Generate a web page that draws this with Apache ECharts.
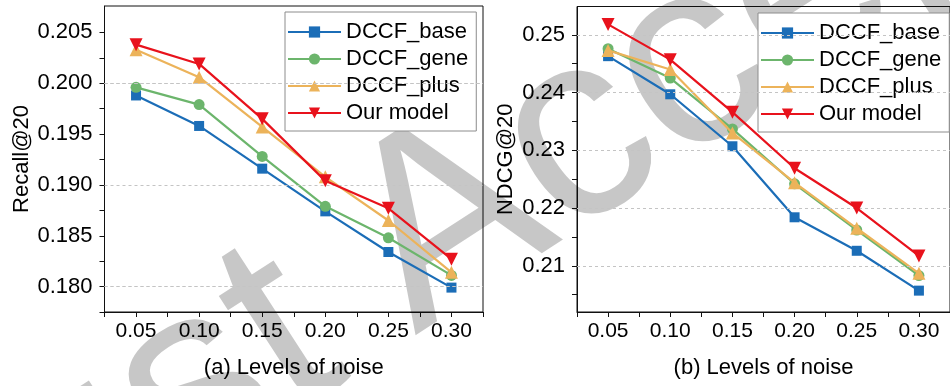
<!DOCTYPE html>
<html>
<head>
<meta charset="utf-8">
<script src="https://cdn.jsdelivr.net/npm/echarts@6/dist/echarts.min.js"></script>
<style>
  html, body { margin: 0; padding: 0; background: #fff; }
  #chart { width: 950px; height: 386px; }
</style>
</head>
<body>
<div id="chart"></div>
<script>
// noise levels on x
var noise = [0.05, 0.10, 0.15, 0.20, 0.25, 0.30];
var names = ['DCCF_base', 'DCCF_gene', 'DCCF_plus', 'Our model'];

// (a) Recall@20
var recallBase = [0.1988, 0.1958, 0.1916, 0.1874, 0.1834, 0.1799];
var recallGene = [0.1996, 0.1979, 0.1928, 0.1879, 0.1848, 0.1811];
var recallPlus = [0.2033, 0.2006, 0.1957, 0.1908, 0.1865, 0.1814];
var recallOurs = [0.2038, 0.2019, 0.1965, 0.1904, 0.1877, 0.1827];

// (b) NDCG@20
var ndcgBase = [0.2463, 0.2397, 0.2307, 0.2184, 0.2126, 0.2057];
var ndcgGene = [0.2476, 0.2425, 0.2337, 0.2242, 0.2162, 0.2083];
var ndcgPlus = [0.2473, 0.2440, 0.2330, 0.2244, 0.2165, 0.2087];
var ndcgOurs = [0.2518, 0.2457, 0.2366, 0.2269, 0.2200, 0.2117];

// ticks / labels
var xTicks = [0.025, 0.05, 0.075, 0.1, 0.125, 0.15, 0.175, 0.2, 0.225, 0.25, 0.275, 0.3, 0.325];
var xLabels = [0.05, 0.1, 0.15, 0.2, 0.25, 0.3];
var recallTicks = [0.1775, 0.18, 0.1825, 0.185, 0.1875, 0.19, 0.1925, 0.195, 0.1975, 0.2, 0.2025, 0.205];
var recallLabels = [0.18, 0.185, 0.19, 0.195, 0.2, 0.205];
var ndcgTicks = [0.205, 0.21, 0.215, 0.22, 0.225, 0.23, 0.235, 0.24, 0.245, 0.25];
var ndcgLabels = [0.21, 0.22, 0.23, 0.24, 0.25];

var colors = ['#1b6db7', '#6cb56c', '#ecb35a', '#e8121c'];
var symbols = ['rect', 'circle', 'triangle', 'triangle'];
var symSizes = [10, 11, 13, 13];
var FONT = 'Liberation Sans';

function pairs(vals) {
    var out = [];
    for (var i = 0; i < noise.length; i++) {
        out.push([noise[i], vals[i]]);
    }
    return out;
}

var grids = [
    { left: 104.5, top: 6, width: 378.5, height: 306 },
    { left: 577, top: 6.5, width: 378, height: 305.5 }
];

var xAxes = [], yAxes = [], series = [], legends = [];

function addPanel(idx, title, yName, nameGap, yMin, yMax, yTicks, yLabels, digits, dataList, legendPos) {
    grids[idx].show = true;
    grids[idx].borderColor = '#111';
    grids[idx].borderWidth = 1;
    grids[idx].backgroundColor = 'transparent';

    xAxes.push({
        type: 'value', gridIndex: idx,
        min: 0.025, max: 0.325,
        name: title, nameLocation: 'middle', nameGap: 45,
        nameTextStyle: { fontFamily: FONT, fontSize: 22, color: '#000' },
        axisLine: { lineStyle: { color: '#111', width: 1 } },
        axisTick: { length: 5, customValues: xTicks, lineStyle: { color: '#111' } },
        axisLabel: {
            customValues: xLabels, margin: 9,
            fontFamily: FONT, fontSize: 21, color: '#000',
            formatter: function (v) { return v.toFixed(2); }
        },
        splitLine: { show: false }
    });

    yAxes.push({
        type: 'value', gridIndex: idx,
        min: yMin, max: yMax,
        name: yName, nameLocation: 'middle', nameGap: nameGap,
        nameTextStyle: { fontFamily: FONT, fontSize: 22, color: '#000' },
        axisLine: { show: true, lineStyle: { color: '#111', width: 1 } },
        axisTick: { show: true, length: 5, customValues: yTicks, lineStyle: { color: '#111' } },
        axisLabel: {
            customValues: yLabels, margin: 12,
            fontFamily: FONT, fontSize: 22, color: '#000',
            formatter: function (v) { return v.toFixed(digits); }
        },
        splitLine: { show: false }
    });

    // dashed grid lines at labelled values
    series.push({
        type: 'line', name: 'grid' + idx,
        xAxisIndex: idx, yAxisIndex: idx,
        data: [], z: 1, silent: true,
        markLine: {
            silent: true, symbol: ['none', 'none'],
            label: { show: false },
            lineStyle: { color: '#c4c4c4', width: 1, type: [3, 3] },
            data: yLabels.map(function (v) { return { yAxis: v }; })
        }
    });

    for (var i = 0; i < names.length; i++) {
        series.push({
            type: 'line', name: names[i],
            xAxisIndex: idx, yAxisIndex: idx,
            data: pairs(dataList[i]),
            symbol: symbols[i],
            symbolSize: symSizes[i],
            symbolRotate: i === 3 ? 180 : 0,
            color: colors[i],
            lineStyle: { width: 2.2, color: colors[i] },
            itemStyle: { color: colors[i] },
            z: 2 + i
        });
    }

    legends.push({
        data: names,
        orient: 'vertical',
        left: legendPos[0], top: legendPos[1],
        padding: [9, 8, 7, 2],
        itemGap: 5,
        itemWidth: 53, itemHeight: 14,
        selectedMode: false,
        backgroundColor: '#fff',
        borderColor: '#8c8c8c', borderWidth: 1,
        textStyle: { fontFamily: FONT, fontSize: 22, color: '#000' }
    });
}

addPanel(0, '(a) Levels of noise', 'Recall@20', 72, 0.1775, 0.2076,
    recallTicks, recallLabels, 3,
    [recallBase, recallGene, recallPlus, recallOurs], [285, 12]);
addPanel(1, '(b) Levels of noise', 'NDCG@20', 60, 0.202, 0.2549,
    ndcgTicks, ndcgLabels, 2,
    [ndcgBase, ndcgGene, ndcgPlus, ndcgOurs], [758, 13]);

var myChart = echarts.init(document.getElementById('chart'), null, { renderer: 'canvas' });

var option = {
    animation: false,
    backgroundColor: '#fff',
    grid: grids,
    xAxis: xAxes,
    yAxis: yAxes,
    legend: legends,
    series: series,
    graphic: [{
        // watermark
        type: 'text', silent: true, z: 1,
        x: -94, y: 579,
        rotation: 33 * Math.PI / 180,
        style: {
            text: 'Just Accepted',
            font: '265px "Liberation Sans"',
            fill: 'rgba(0,0,0,0.22)',
            textAlign: 'left',
            textVerticalAlign: 'middle'
        }
    }]
};

myChart.setOption(option);
</script>
</body>
</html>
